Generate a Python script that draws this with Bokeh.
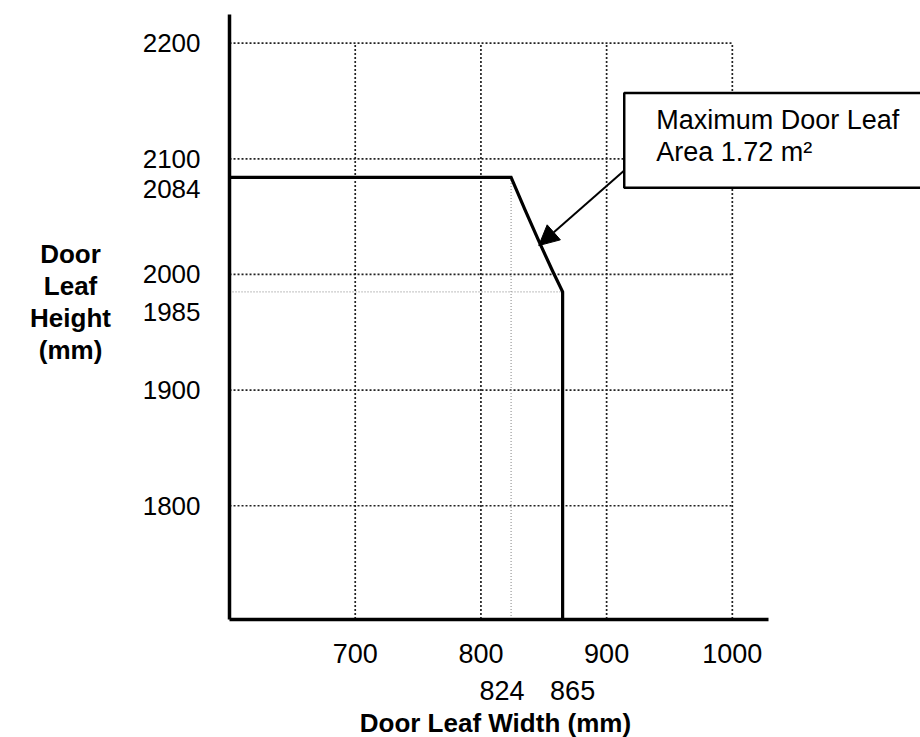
from bokeh.plotting import figure
from bokeh.models import Range1d, FixedTicker, Label, Arrow, NormalHead, BoxAnnotation
from bokeh.embed import file_html
from bokeh.resources import INLINE

# ---- data ----
width_mm = [600, 824, 835, 846, 857, 865, 865]          # limit curve, door leaf width (mm)
height_mm = [2084, 2084, 2056, 2029, 2003, 1985, 1702]   # limit curve, door leaf height (mm)
x_ticks = [700, 800, 900, 1000]
y_ticks = [1800, 1900, 2000, 2100, 2200]
x_marks = [824, 865]        # extra labelled widths
y_marks = [2084, 1985]      # extra labelled heights
note_lines = ["Maximum Door Leaf", "Area 1.72 m\u00b2"]
x_title = "Door Leaf  Width (mm)"
y_title_lines = ["Door", "Leaf", "Height", "(mm)"]

# axis extents (where the drawn axes start/end)
X_MIN, X_MAX = 600, 1029
Y_MIN, Y_MAX = 1702, 2225
# visible window
VIEW_X = (417.8, 1149.7)
VIEW_Y = (1599.6, 2236.9)

FONT = "Liberation Sans"
FS = "26px"

p = figure(width=920, height=737, output_backend="svg", toolbar_location=None,
           x_range=Range1d(*VIEW_X), y_range=Range1d(*VIEW_Y),
           min_border_left=0, min_border_right=0, min_border_top=0, min_border_bottom=0)
p.outline_line_color = None
p.grid.visible = False
p.background_fill_color = "white"
p.border_fill_color = "white"

# dotted grid, bounded to the tick box
p.segment(x0=x_ticks, y0=[Y_MIN] * len(x_ticks), x1=x_ticks, y1=[max(y_ticks)] * len(x_ticks),
          line_color="#222222", line_width=1.7, line_dash="2 2")
p.segment(x0=[X_MIN] * len(y_ticks), y0=y_ticks, x1=[max(x_ticks)] * len(y_ticks), y1=y_ticks,
          line_color="#222222", line_width=1.7, line_dash="2 2")
# light reference lines for 1985 and 824
p.segment(x0=[X_MIN], y0=[y_marks[1]], x1=[x_marks[1]], y1=[y_marks[1]],
          line_color="#999999", line_width=1.2, line_dash="1 2")
p.segment(x0=[x_marks[0]], y0=[Y_MIN], x1=[x_marks[0]], y1=[y_marks[0]],
          line_color="#999999", line_width=1.2, line_dash="1 2")

# limit curve
p.line(width_mm, height_mm, line_color="black", line_width=3.2, line_join="miter")

# axes, drawn at fixed data locations
for ax in (p.xaxis, p.yaxis):
    ax.axis_line_width = 3.5
    ax.axis_line_color = "black"
    ax.major_tick_line_color = None
    ax.minor_tick_line_color = None
    ax.major_tick_out = 0
    ax.major_tick_in = 0
    ax.major_label_text_font = FONT
    ax.major_label_text_font_size = FS
    ax.major_label_text_color = "black"
    ax.axis_label_text_font = FONT
    ax.axis_label_text_font_size = FS
    ax.axis_label_text_font_style = "bold"
    ax.axis_label_text_color = "black"

p.xaxis.fixed_location = Y_MIN
p.xaxis.bounds = (X_MIN, X_MAX)
p.yaxis.fixed_location = X_MIN
p.yaxis.bounds = (Y_MIN, Y_MAX)

p.xaxis.ticker = FixedTicker(ticks=x_ticks)
p.yaxis.ticker = FixedTicker(ticks=y_ticks)
p.xaxis.major_label_text_font_size = "27px"
p.xaxis.major_label_standoff = 25
p.xaxis.axis_label = x_title
p.xaxis.axis_label_standoff = 41
p.yaxis.major_label_standoff = 29

# y title: horizontal, centred lines left of the tick labels
p.add_layout(Label(x=X_MIN, y=Y_MIN, x_offset=-159, y_offset=317, text="\n".join(y_title_lines),
                   text_align="center", text_baseline="middle", text_line_height=1.07,
                   text_font=FONT, text_font_size=FS, text_font_style="bold", text_color="black"))

# extra labels for 2084 / 1985 (shifted to avoid overlap, as in the reference)
for yv, off in zip(y_marks, [-12, -20]):
    p.add_layout(Label(x=X_MIN, y=yv, x_offset=-29, y_offset=off, text=str(yv),
                       text_align="right", text_baseline="middle",
                       text_font=FONT, text_font_size=FS, text_color="black"))
# extra labels for 824 / 865
for xv, off in zip(x_marks, [-9, 10]):
    p.add_layout(Label(x=xv, y=Y_MIN, x_offset=off, y_offset=-71, text=str(xv),
                       text_align="center", text_baseline="middle",
                       text_font=FONT, text_font_size="27px", text_color="black"))

# callout box + arrow
p.add_layout(BoxAnnotation(left=914, right=1300, top=2157, bottom=2075,
                           fill_color="white", fill_alpha=1.0,
                           line_color="black", line_alpha=1.0, line_width=2.5))
p.add_layout(Label(x=914, y=2157, x_offset=32, y_offset=-12, text="\n".join(note_lines),
                   text_align="left", text_baseline="top", text_line_height=1.08,
                   text_font=FONT, text_font_size="27px", text_color="black"))
p.add_layout(Arrow(x_start=914, y_start=2090, x_end=846, y_end=2025,
                   line_color="black", line_width=2,
                   end=NormalHead(size=20, fill_color="black", line_color="black")))

open("out.html", "w").write(file_html(p, INLINE))
